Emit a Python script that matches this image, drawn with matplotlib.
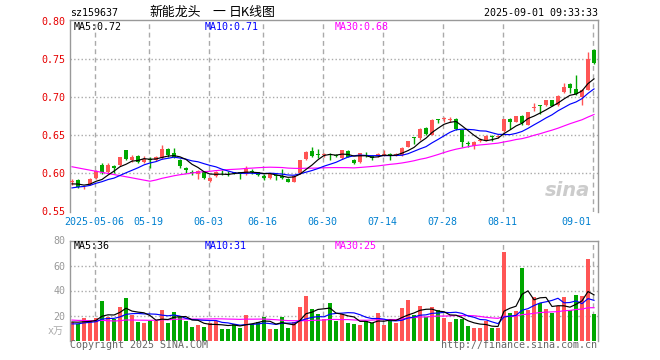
import numpy as np
import pandas as pd
import matplotlib
matplotlib.use("Agg")
import matplotlib.pyplot as plt

# ================= DATA =================
# daily K line, 88 sessions, last one is 2025-09-01
open_ = [0.588, 0.591, 0.580, 0.586, 0.594, 0.611, 0.602, 0.610, 0.611, 0.630,
         0.617, 0.623, 0.615, 0.619, 0.617, 0.620, 0.632, 0.626, 0.618, 0.607,
         0.602, 0.599, 0.601, 0.590, 0.596, 0.602, 0.602, 0.601, 0.601, 0.599,
         0.603, 0.601, 0.597, 0.594, 0.598, 0.597, 0.593, 0.589, 0.600, 0.619,
         0.629, 0.625, 0.624, 0.625, 0.624, 0.620, 0.629, 0.618, 0.615, 0.624,
         0.623, 0.623, 0.624, 0.625, 0.624, 0.624, 0.635, 0.647, 0.647, 0.660,
         0.651, 0.671, 0.671, 0.670, 0.671, 0.657, 0.640, 0.636, 0.643, 0.643,
         0.649, 0.648, 0.655, 0.672, 0.668, 0.676, 0.664, 0.686, 0.689, 0.690,
         0.696, 0.690, 0.707, 0.718, 0.711, 0.700, 0.710, 0.762]
high = [0.592, 0.593, 0.583, 0.594, 0.604, 0.613, 0.614, 0.611, 0.622, 0.631,
        0.624, 0.624, 0.623, 0.621, 0.623, 0.637, 0.633, 0.633, 0.619, 0.608,
        0.604, 0.604, 0.602, 0.595, 0.603, 0.604, 0.603, 0.602, 0.602, 0.610,
        0.605, 0.602, 0.599, 0.600, 0.599, 0.605, 0.594, 0.598, 0.618, 0.629,
        0.634, 0.632, 0.627, 0.626, 0.625, 0.631, 0.630, 0.619, 0.627, 0.628,
        0.624, 0.626, 0.630, 0.626, 0.627, 0.634, 0.643, 0.648, 0.659, 0.661,
        0.671, 0.672, 0.674, 0.674, 0.673, 0.658, 0.643, 0.642, 0.646, 0.650,
        0.650, 0.651, 0.672, 0.673, 0.676, 0.677, 0.681, 0.692, 0.690, 0.697,
        0.697, 0.703, 0.719, 0.719, 0.729, 0.711, 0.760, 0.763]
low = [0.585, 0.580, 0.579, 0.584, 0.593, 0.599, 0.600, 0.600, 0.610, 0.618,
       0.615, 0.613, 0.613, 0.607, 0.616, 0.619, 0.622, 0.620, 0.607, 0.600,
       0.598, 0.593, 0.593, 0.588, 0.595, 0.598, 0.596, 0.599, 0.592, 0.598,
       0.599, 0.597, 0.591, 0.593, 0.591, 0.593, 0.588, 0.588, 0.599, 0.618,
       0.622, 0.620, 0.622, 0.617, 0.621, 0.619, 0.621, 0.612, 0.614, 0.621,
       0.618, 0.622, 0.623, 0.617, 0.623, 0.623, 0.634, 0.639, 0.644, 0.651,
       0.650, 0.666, 0.668, 0.668, 0.657, 0.635, 0.634, 0.632, 0.641, 0.642,
       0.643, 0.646, 0.654, 0.658, 0.667, 0.664, 0.663, 0.682, 0.678, 0.688,
       0.688, 0.689, 0.706, 0.706, 0.703, 0.690, 0.709, 0.744]
close = [0.589, 0.582, 0.581, 0.592, 0.603, 0.601, 0.611, 0.607, 0.621, 0.619,
         0.622, 0.615, 0.619, 0.617, 0.621, 0.632, 0.624, 0.622, 0.609, 0.604,
         0.600, 0.603, 0.594, 0.594, 0.602, 0.601, 0.601, 0.600, 0.599, 0.606,
         0.601, 0.598, 0.594, 0.599, 0.597, 0.594, 0.589, 0.597, 0.617, 0.628,
         0.623, 0.624, 0.625, 0.624, 0.623, 0.630, 0.622, 0.614, 0.626, 0.623,
         0.620, 0.625, 0.625, 0.624, 0.625, 0.633, 0.642, 0.646, 0.658, 0.652,
         0.670, 0.670, 0.672, 0.671, 0.658, 0.641, 0.639, 0.641, 0.644, 0.649,
         0.648, 0.649, 0.671, 0.668, 0.675, 0.666, 0.680, 0.687, 0.688, 0.696,
         0.689, 0.702, 0.714, 0.712, 0.704, 0.710, 0.750, 0.745]
# volume in 万
volume = [15.0, 13.2, 17.8, 16.4, 17.8, 31.8, 19.0, 17.0, 27.0, 34.2,
          20.4, 15.0, 14.2, 16.0, 15.7, 24.4, 13.7, 23.0, 18.5, 16.0,
          11.0, 12.4, 11.0, 14.2, 15.7, 9.5, 9.5, 13.2, 10.3, 20.4,
          13.2, 15.0, 19.0, 9.2, 9.2, 19.0, 10.3, 15.0, 27.0, 35.9,
          25.2, 21.2, 17.5, 30.0, 15.7, 21.0, 14.3, 13.2, 12.4, 15.7,
          14.3, 22.3, 12.4, 17.0, 14.3, 26.0, 32.4, 20.4, 27.6, 18.5,
          26.6, 24.4, 18.0, 14.8, 17.5, 17.0, 11.6, 9.8, 9.8, 15.7,
          10.4, 10.4, 71.0, 21.7, 23.6, 58.0, 24.4, 35.0, 29.7, 25.2,
          21.7, 27.6, 34.5, 24.4, 36.4, 35.6, 65.0, 21.2]

# sessions before the window, only used so the MA lines start where they do
pre_close = [0.628, 0.626, 0.636, 0.646, 0.645, 0.655, 0.650, 0.664, 0.662, 0.666,
             0.660, 0.663, 0.661, 0.572, 0.566, 0.575, 0.570, 0.568, 0.572, 0.565,
             0.570, 0.574, 0.578, 0.575, 0.580, 0.583, 0.588, 0.586, 0.584]
pre_volume = [22, 18, 25, 20, 19, 28, 24, 20, 17, 21, 18, 16, 19, 14, 12,
              15, 13, 11, 14, 12, 13, 10, 12, 13, 11, 14, 16, 15, 14]

date_pos = [4, 13, 23, 32, 42, 52, 62, 72, 87]
date_labels = ["2025-05-06", "05-19", "06-03", "06-16", "06-30",
               "07-14", "07-28", "08-11", "09-01"]
price_ticks = [0.55, 0.60, 0.65, 0.70, 0.75, 0.80]
price_grid = [0.60, 0.65, 0.70, 0.75]
vol_ticks = [20, 40, 60, 80]
vol_grid = [20, 40, 60]

# ================= STYLE =================
RED = "#ff5555"
GREEN = "#00a800"
GRID = "#aaaaaa"
FRAME = "#999999"
MONO = ["DejaVu Sans Mono", "Noto Sans CJK SC"]
CJK = ["Noto Sans CJK SC", "DejaVu Sans"]
FS = 7.2

W, H = 660, 360


def fx(px):
    return px / W


def fy(py):
    return 1 - py / H


# ================= CALC =================
n = len(close)
x = np.arange(n)
o = np.array(open_)
c = np.array(close)
hi = np.array(high)
lo = np.array(low)
up = c >= o
colors = np.where(up, RED, GREEN)

all_close = pd.Series(pre_close + close)
all_vol = pd.Series(pre_volume + volume)
k = len(pre_close)
ma = {p: all_close.rolling(p).mean().values[k:] for p in (5, 10, 30)}
vma = {p: all_vol.rolling(p).mean().values[k:] for p in (5, 10, 30)}

# ================= FIGURE =================
fig = plt.figure(figsize=(6.6, 3.6), dpi=100)
ax = fig.add_axes([fx(70), fy(212), 528 / W, 192 / H])
axv = fig.add_axes([fx(70), fy(340.5), 528 / W, 100 / H])

for a in (ax, axv):
    a.set_xlim(-1 / 3, n - 1 / 3)
    a.set_xticks([])
    a.tick_params(axis="y", length=0, pad=3.3, labelsize=FS)
    for s in ("left", "top", "right"):
        a.spines[s].set_color(FRAME)
        a.spines[s].set_linewidth(1)
    a.spines["bottom"].set_visible(False)
    for p in date_pos:
        a.axvline(p - 0.25, color=GRID, lw=1, ls=(0, (3.5, 2.5)), zorder=0)

# ---------- price ----------
ax.set_ylim(0.549, 0.8017)
ax.set_yticks(price_ticks)
ax.set_yticklabels([f"{t:.2f}" for t in price_ticks], family=MONO, color="#e60000")
for g in price_grid:
    ax.axhline(g, color=GRID, lw=1, ls=":", zorder=0)

ax.vlines(x, lo, hi, colors=colors, lw=1, zorder=2)
body = np.maximum(np.abs(c - o), 0.0012)
ax.bar(x, body, bottom=np.minimum(o, c), width=0.8, color=colors, lw=0, zorder=3)
ax.plot(x, ma[30], color="#ff00ff", lw=0.85, zorder=4)
ax.plot(x, ma[10], color="#0000ff", lw=0.85, zorder=4)
ax.plot(x, ma[5], color="black", lw=0.85, zorder=4)

# ---------- volume ----------
axv.set_ylim(0, 80)
axv.set_yticks(vol_ticks)
axv.set_yticklabels([str(t) for t in vol_ticks], family=MONO, color=FRAME)
for g in vol_grid:
    axv.axhline(g, color=GRID, lw=1, ls=":", zorder=0)
axv.bar(x, volume, width=0.8, color=colors, lw=0, zorder=2)
axv.plot(x, vma[30], color="#ff00ff", lw=0.85, zorder=4)
axv.plot(x, vma[10], color="#0000ff", lw=0.85, zorder=4)
axv.plot(x, vma[5], color="black", lw=0.85, zorder=4)

# ---------- dates ----------
for p, lab in zip(date_pos, date_labels):
    ha = "right" if p == date_pos[-1] else "center"
    xp = p - 0.45 if ha == "right" else p - 0.25
    ax.text(xp, -0.052, lab, transform=ax.get_xaxis_transform(), ha=ha, va="center",
            fontsize=FS, family=MONO, color="#0080d0")

# ================= TEXTS =================
fig.text(fx(70), fy(13), "sz159637", fontsize=FS, family=MONO, va="center")
fig.text(fx(149.5), fy(12.5), "新能龙头", fontsize=9.3, family=CJK, va="center")
fig.text(fx(212), fy(12.5), "一", fontsize=9.3, family=CJK, va="center")
fig.text(fx(229), fy(12.5), "日K线图", fontsize=9.3, family=CJK, va="center")
fig.text(fx(597.5), fy(12.5), "2025-09-01 09:33:33", fontsize=FS, family=MONO,
         va="center", ha="right")

fig.text(fx(74), fy(26.5), "MA5:0.72", fontsize=FS, family=MONO, va="center", color="black")
fig.text(fx(205), fy(26.5), "MA10:0.71", fontsize=FS, family=MONO, va="center", color="#0000ff")
fig.text(fx(334.7), fy(26.5), "MA30:0.68", fontsize=FS, family=MONO, va="center", color="#ff00ff")

fig.text(fx(74), fy(246), "MA5:36", fontsize=FS, family=MONO, va="center", color="black")
fig.text(fx(205), fy(246), "MA10:31", fontsize=FS, family=MONO, va="center", color="#0000ff")
fig.text(fx(334.7), fy(246), "MA30:25", fontsize=FS, family=MONO, va="center", color="#ff00ff")

fig.text(fx(56), fy(331), "x万", fontsize=FS, family=MONO, va="center", ha="center", color="#aaaaaa")
fig.text(fx(70), fy(345.5), "Copyright 2025 SINA.COM", fontsize=FS, family=MONO,
         va="center", color="#666666")
fig.text(fx(597), fy(345.5), "http://finance.sina.com.cn", fontsize=FS, family=MONO,
         va="center", ha="right", color="#666666")

# watermark
fig.text(fx(567), fy(191), "sina", fontsize=14, fontweight="bold", style="italic",
         family="DejaVu Sans", color="#cccccc", ha="center", va="center", zorder=0)

fig.savefig("out.png", dpi=100)
